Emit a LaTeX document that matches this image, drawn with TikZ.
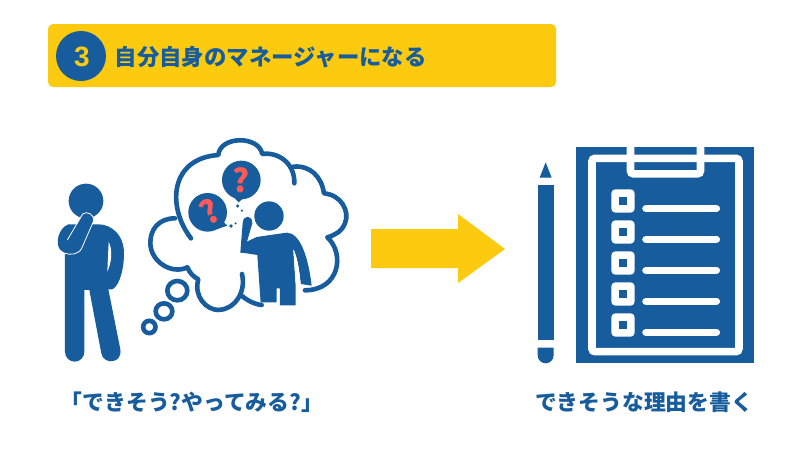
\documentclass[tikz,border=0pt]{standalone}
\usepackage{fontspec}
\newfontfamily\cjk{Noto Sans CJK JP}
\newfontfamily\latinbold{Liberation Sans}
\definecolor{navy}{HTML}{175C9C}
\definecolor{amber}{HTML}{FCCB0F}
\definecolor{coral}{HTML}{FF5A5A}
\tikzset{
  caption/.style={text=navy,font=\cjk\bfseries\fontsize{21.8}{24}\selectfont,inner sep=0pt},
  cloudline/.style={draw=navy,line width=4.6pt,line cap=round,line join=round},
  ring/.style={draw=navy,line width=4.6pt,fill=white},
  rule/.style={draw=white,line width=7.5pt,line cap=round},
  qmark/.style={text=coral,font=\cjk\bfseries\fontsize{32}{32}\selectfont,inner sep=0pt}
}
\begin{document}
\begin{tikzpicture}[x=1pt,y=-1pt]
\useasboundingbox (0,0) rectangle (800,450);
\fill[white] (0,0) rectangle (800,450);

% heading band
\fill[amber,rounded corners=5pt] (48,24) rectangle (556,87);
\fill[navy] (81,56) circle (25);
\node[text=amber,font=\latinbold\bfseries\fontsize{28}{28}\selectfont,inner sep=0pt] (num) at (82,56.5) {3};
\node[caption,anchor=west,font=\cjk\bfseries\fontsize{22.4}{24}\selectfont] (title) at (114.5,57) {自分自身のマネージャーになる};

% standing figure and thought bubble
\begin{scope}[shift={(30pt,-140pt)},x=0.3333pt,y=-0.3333pt]
  \fill[navy] (168,183) circle (52);
  \fill[navy] (105,300) -- (105,636) arc[start angle=180,end angle=360,x radius=29,y radius=-29]
    -- (163,450) -- (178,450) -- (214,640)
    .. controls (220,675) and (278,672) .. (271,628)
    -- (235,448) -- (245,448) .. controls (262,446) and (282,400) .. (282,340)
    .. controls (282,285) and (245,253) .. (205,253) -- (125,253) -- cycle;
  \fill[white] (236,305) .. controls (248,330) and (246,365) .. (232,395) -- cycle;
  \fill[navy] (115,253) .. controls (85,265) and (75,310) .. (90,328)
    .. controls (105,345) and (140,350) .. (155,325) -- (190,245)
    .. controls (195,222) and (170,212) .. (158,225) -- (112,300) -- (125,253) -- cycle;
  \draw[white,line width=0.8pt] (112,300) -- (158,222) .. controls (170,212) and (195,222) .. (190,245)
    -- (155,325) .. controls (145,345) and (120,345) .. (105,340);

  % outline of the cloud, broken where the inner figure stands
  \draw[cloudline] (483,295) .. controls (410,200) and (420,55) .. (565,45)
    .. controls (570,-12) and (685,-15) .. (697,42)
    .. controls (745,35) and (795,70) .. (793,130);
  \draw[cloudline] (790,80) .. controls (840,75) and (875,110) .. (882,160)
    .. controls (935,165) and (960,215) .. (945,250)
    .. controls (935,275) and (915,285) .. (892,292)
    .. controls (945,340) and (930,450) .. (825,451);
  \draw[cloudline] (435,235) .. controls (385,235) and (360,270) .. (361,310)
    .. controls (362,365) and (425,405) .. (472,382)
    .. controls (480,400) and (490,410) .. (505,418)
    .. controls (490,470) and (530,510) .. (565,510)
    .. controls (610,510) and (650,460) .. (636,402);
  \draw[cloudline] (632,465) .. controls (650,480) and (670,492) .. (695,495);

  % trailing rings
  \draw[ring] (442,452) ellipse (30 and 29);
  \draw[ring] (402,514) ellipse (25 and 24);
  \draw[ring] (358,561) ellipse (18.5 and 18.5);

  % question balloons
  \fill[navy] (634,120) circle (58);
  \fill[navy] (610,170) -- (626,187) -- (645,170) -- cycle;
  \fill[navy] (533,217) circle (58);
  \fill[navy] (570,235) -- (592,257) -- (560,268) -- cycle;
  \fill[navy] (623,198) circle (5.5) (636,212) circle (3.5) (603,258) circle (5.5) (617,250) circle (3.5);

  % inner figure
  \fill[navy] (717,228) circle (44);
  \fill[navy] (631,338) -- (638,250) .. controls (640,222) and (668,225) .. (667,250)
    -- (651,305) -- (680,291) -- (770,278)
    .. controls (810,278) and (835,350) .. (845,437)
    -- (812,432) .. controls (808,385) and (800,345) .. (790,328)
    -- (797,432) -- (797,496) -- (750,496) -- (750,445) -- (740,445) -- (740,487) -- (692,487)
    -- (682,345) -- (650,340) -- cycle;
  \fill[white] (790,328) .. controls (800,345) and (808,385) .. (812,432) -- (797,432) -- cycle;
\end{scope}

\node[qmark] (qa) at (240.7,180) {?};
\node[qmark,rotate=30] (qb) at (209.5,212) {?};

% block arrow between the two halves
\fill[amber] (371,229) -- (458,229) -- (458,214) -- (505,249) -- (458,283) -- (458,268) -- (371,268) -- cycle;

% pencil and clipboard
\begin{scope}[shift={(520pt,-140pt)},x=0.3333pt,y=-0.3333pt]
  \fill[navy] (77,67) -- (95,113) -- (59,113) -- cycle;
  \fill[navy] (53,136) rectangle (101,600);
  \fill[navy] (53,623) -- (101,623) -- (101,646) arc[start angle=0,end angle=180,x radius=24,y radius=24] -- cycle;

  \fill[navy] (169,20) rectangle (703,670);
  \draw[white,line width=7.6pt,rounded corners=3pt] (216,55) rectangle (657,635);
  \draw[white,line width=7.6pt,rounded corners=3pt] (331.5,17) -- (331.5,101.5) -- (541.5,101.5) -- (541.5,17);
  \foreach \cy/\ly in {183/206,276/298,369/391,462/484,555/577} {
    \fill[white,rounded corners=4pt] (274,\cy-35) rectangle (344,\cy+35);
    \fill[navy] (298,\cy-11.5) rectangle (321,\cy+11.5);
    \draw[rule] (378,\ly) -- (589,\ly);
  }
\end{scope}

% captions under each half
\node[caption] (lefttext) at (192,402) {「できそう?やってみる?」};
\node[caption] (righttext) at (644,402) {できそうな理由を書く};
\end{tikzpicture}
\end{document}
